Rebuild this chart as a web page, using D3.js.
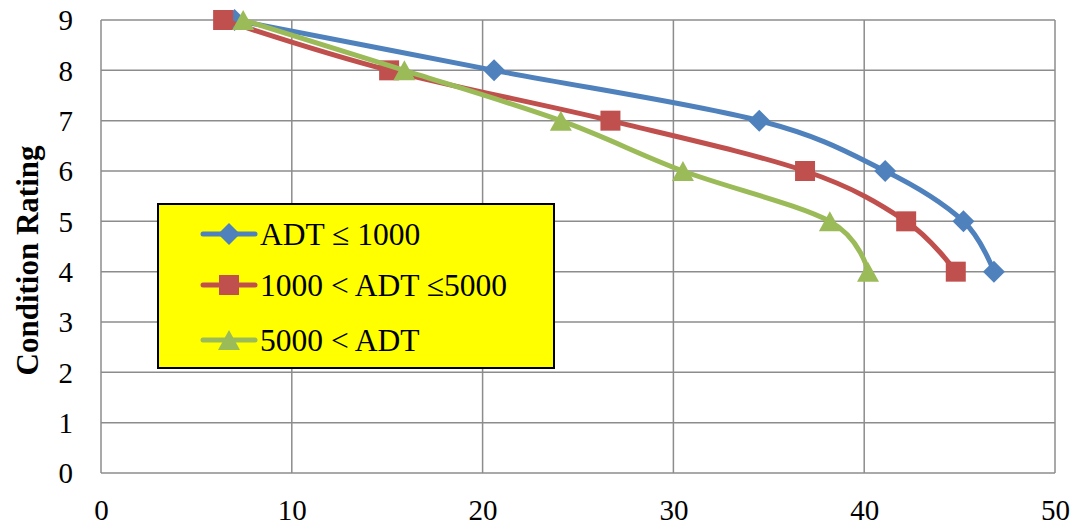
<!DOCTYPE html>
<html>
<head>
<meta charset="utf-8">
<script src="https://cdn.jsdelivr.net/npm/d3@7"></script>
<style>
  html, body { margin: 0; padding: 0; background: #fff; }
  svg { display: block; font-family: "Liberation Serif", "Times New Roman", serif; }
</style>
</head>
<body>
<svg id="chart" width="1073" height="527"></svg>
<script>
// Condition rating reached versus age, by traffic volume class
const ratings = [9, 8, 7, 6, 5, 4];
const ageLowADT = [7.0, 20.6, 34.5, 41.1, 45.2, 46.8];
const ageMidADT = [6.4, 15.1, 26.7, 36.9, 42.2, 44.8];
const ageHighADT = [7.45, 15.9, 24.1, 30.5, 38.2, 40.2];

const seriesNames = ["ADT \u2264 1000", "1000 < ADT \u22645000", "5000 < ADT"];
const seriesColors = ["#4F81BD", "#C0504D", "#9BBB59"];
const seriesMarkers = ["diamond", "square", "triangle"];

const xTicks = [0, 10, 20, 30, 40, 50];
const yTicks = [0, 1, 2, 3, 4, 5, 6, 7, 8, 9];
const yTitle = "Condition Rating";

const svg = d3.select("#chart");
const plot = { left: 101, right: 1055, top: 20, bottom: 473 };

const x = d3.scaleLinear().domain([0, 50]).range([plot.left, plot.right]);
const y = d3.scaleLinear().domain([0, 9]).range([plot.bottom, plot.top]);

const gridColor = "#8c8c8c";
const serif = "'Liberation Serif', 'Times New Roman', serif";

// gridlines
svg.append("g").selectAll("line").data(xTicks).join("line")
  .attr("x1", d => x(d)).attr("x2", d => x(d))
  .attr("y1", plot.top).attr("y2", plot.bottom)
  .attr("stroke", gridColor).attr("stroke-width", 1.5);
svg.append("g").selectAll("line").data(yTicks).join("line")
  .attr("x1", plot.left).attr("x2", plot.right)
  .attr("y1", d => y(d)).attr("y2", d => y(d))
  .attr("stroke", gridColor).attr("stroke-width", 1.5);

// axes (labels only; lines come from the grid)
const xAxis = d3.axisBottom(x).tickValues(xTicks).tickSize(0).tickPadding(0).tickFormat(d3.format("d"));
const gx = svg.append("g").attr("transform", `translate(0,${plot.bottom})`).call(xAxis);
gx.select(".domain").remove();
gx.selectAll("text").attr("font-size", 29).attr("fill", "#000")
  .attr("font-family", serif).attr("dy", null).attr("y", 47);

const yAxis = d3.axisLeft(y).tickValues(yTicks).tickSize(0).tickPadding(0).tickFormat(d3.format("d"));
const gy = svg.append("g").attr("transform", `translate(${plot.left},0)`).call(yAxis);
gy.select(".domain").remove();
gy.selectAll("text").attr("font-size", 29).attr("fill", "#000")
  .attr("font-family", serif).attr("x", -28).attr("dy", "0.34em");

svg.append("text")
  .attr("transform", `translate(38,${(plot.top + plot.bottom) / 2 + 14}) rotate(-90)`)
  .attr("text-anchor", "middle")
  .attr("font-size", 31).attr("font-weight", "bold")
  .text(yTitle);

// marker shapes, centred on the data point
const markerPath = {
  diamond: "M0,-11L11,0L0,11L-11,0Z",
  square: "M-10,-10H10V10H-10Z",
  triangle: "M0,-10L11,10H-11Z"
};
function drawMarker(sel, kind, color) {
  return sel.append("path").attr("d", markerPath[kind]).attr("fill", color);
}

const line = d3.line()
  .x(d => x(d.age)).y(d => y(d.rating))
  .curve(d3.curveCardinal.tension(0));

const allSeries = [ageLowADT, ageMidADT, ageHighADT].map((ages, i) => ({
  name: seriesNames[i], color: seriesColors[i], marker: seriesMarkers[i],
  points: ages.map((a, j) => ({ age: a, rating: ratings[j] }))
}));

allSeries.forEach(s => {
  const g = svg.append("g");
  g.append("path").attr("d", line(s.points))
    .attr("fill", "none").attr("stroke", s.color)
    .attr("stroke-width", 5).attr("stroke-linejoin", "round").attr("stroke-linecap", "round");
  g.selectAll("g").data(s.points).join("g")
    .attr("transform", d => `translate(${x(d.age)},${y(d.rating)})`)
    .each(function () { drawMarker(d3.select(this), s.marker, s.color); });
});

// legend
const lg = svg.append("g");
lg.append("rect").attr("x", 158).attr("y", 204).attr("width", 396).attr("height", 164)
  .attr("fill", "#ffff00").attr("stroke", "#000").attr("stroke-width", 2);
const legendRowY = [234, 285, 340];
allSeries.forEach((s, i) => {
  const row = lg.append("g").attr("transform", `translate(0,${legendRowY[i]})`);
  row.append("line").attr("x1", 203).attr("x2", 255).attr("y1", 0).attr("y2", 0)
    .attr("stroke", s.color).attr("stroke-width", 5).attr("stroke-linecap", "round");
  row.append("g").attr("transform", "translate(229,0)")
    .each(function () { drawMarker(d3.select(this), s.marker, s.color); });
  row.append("text").attr("x", 260).attr("y", 0).attr("dy", "0.35em")
    .attr("font-size", 31.5).attr("fill", "#000").text(s.name);
});
</script>
</body>
</html>
